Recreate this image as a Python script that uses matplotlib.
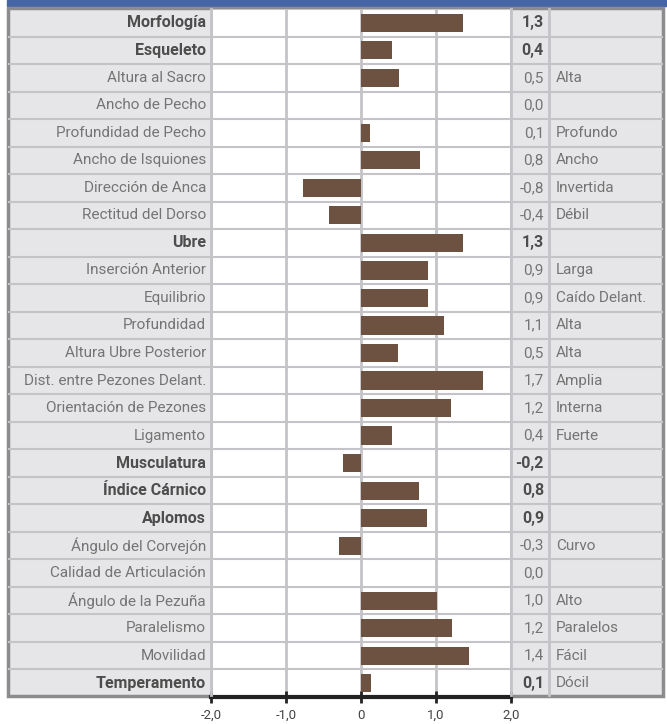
import matplotlib.pyplot as plt
from matplotlib.patches import Rectangle

# rows, top to bottom
labels = ['Morfología', 'Esqueleto', 'Altura al Sacro', 'Ancho de Pecho',
          'Profundidad de Pecho', 'Ancho de Isquiones', 'Dirección de Anca',
          'Rectitud del Dorso', 'Ubre', 'Inserción Anterior', 'Equilibrio',
          'Profundidad', 'Altura Ubre Posterior', 'Dist. entre Pezones Delant.',
          'Orientación de Pezones', 'Ligamento', 'Musculatura', 'Índice Cárnico',
          'Aplomos', 'Ángulo del Corvejón', 'Calidad de Articulación',
          'Ángulo de la Pezuña', 'Paralelismo', 'Movilidad', 'Temperamento']
values = [1.36, 0.41, 0.51, 0.0, 0.12, 0.79, -0.78, -0.43, 1.36, 0.89, 0.89,
          1.11, 0.49, 1.63, 1.20, 0.41, -0.24, 0.77, 0.88, -0.29, 0.0,
          1.01, 1.21, 1.44, 0.13]
value_text = ['1,3', '0,4', '0,5', '0,0', '0,1', '0,8', '-0,8', '-0,4', '1,3',
              '0,9', '0,9', '1,1', '0,5', '1,7', '1,2', '0,4', '-0,2', '0,8',
              '0,9', '-0,3', '0,0', '1,0', '1,2', '1,4', '0,1']
descriptions = ['', '', 'Alta', '', 'Profundo', 'Ancho', 'Invertida', 'Débil',
                '', 'Larga', 'Caído Delant.', 'Alta', 'Alta', 'Amplia', 'Interna',
                'Fuerte', '', '', '', 'Curvo', '', 'Alto', 'Paralelos', 'Fácil',
                'Dócil']
bold_rows = ['Morfología', 'Esqueleto', 'Ubre', 'Musculatura', 'Índice Cárnico',
             'Aplomos', 'Temperamento']
ticks = [-2, -1, 0, 1, 2]
tick_labels = ['-2,0', '-1,0', '0', '1,0', '2,0']

W, H = 667, 724
plt.rcParams['font.family'] = ['Roboto', 'DejaVu Sans']


def fx(x):
    return x / W


def fy(y):
    return 1 - y / H


fig = plt.figure(figsize=(W / 100, H / 100), dpi=100)

top, bottom = 9, 697
left_col, plot_l, plot_r, val_r, right = 9, 211, 511, 549, 662
n = len(labels)
row_h = (bottom - top) / n
grid_c = '#c4c4c8'

# header band, grey cell background and frame
fig.patches.append(Rectangle((fx(7), fy(6)), fx(660), 6 / H, color='#4665a6',
                             transform=fig.transFigure, zorder=-2))
fig.patches.append(Rectangle((fx(left_col), fy(bottom)), fx(right - left_col),
                             (bottom - top) / H, facecolor='#e6e6e8',
                             edgecolor='none', transform=fig.transFigure,
                             zorder=-2))
fig.patches.append(Rectangle((fx(left_col - 1), fy(bottom - 1)),
                             fx(right - left_col + 2), (bottom - top) / H,
                             facecolor='none', edgecolor='#8c8c8c', lw=2.5,
                             transform=fig.transFigure, zorder=0.5))

ax = fig.add_axes([fx(plot_l), fy(bottom), fx(plot_r - plot_l), (bottom - top) / H])
ax.set_zorder(1)
ax.set_facecolor('white')
y = list(range(n))
ax.barh(y, values, height=0.66, color='#6e5241', zorder=3)
ax.set_xlim(-2, 2)
ax.set_ylim(n - 0.5, -0.5)

for t in ticks:
    ax.axvline(t, color=grid_c, lw=2, zorder=1)
for i in range(n):
    ax.axhline(i - 0.5, color=grid_c, lw=1.5, zorder=1)

for s in ['top', 'left', 'right']:
    ax.spines[s].set_visible(False)
ax.spines['bottom'].set_linewidth(3)
ax.spines['bottom'].set_color('#222222')
ax.spines['bottom'].set_zorder(5)
ax.set_yticks([])
ax.set_xticks(ticks)
ax.set_xticklabels(tick_labels)
ax.tick_params(axis='x', direction='inout', length=9, width=2, color='#222222',
               labelsize=9.5, labelcolor='#444444', pad=4)

# row separators across side columns
for i in range(1, n):
    yy = fy(top + i * row_h)
    for x0, x1 in [(left_col, plot_l), (plot_r, right)]:
        fig.add_artist(plt.Line2D([fx(x0), fx(x1)], [yy, yy], color=grid_c,
                                  lw=1.5, transform=fig.transFigure, zorder=2))
for xc in [plot_l, plot_r, val_r]:
    fig.add_artist(plt.Line2D([fx(xc), fx(xc)], [fy(top), fy(bottom - 2)],
                              color=grid_c, lw=2, transform=fig.transFigure,
                              zorder=2))

for i, lab in enumerate(labels):
    yc = fy(top + (i + 0.5) * row_h)
    bold = lab in bold_rows
    wt = 'bold' if bold else 'normal'
    col = '#4d4d4d' if bold else '#747474'
    fs = 11.5 if bold else 11
    fig.text(fx(plot_l - 5), yc, lab, ha='right', va='center', fontsize=fs,
             fontweight=wt, color=col)
    fig.text(fx(val_r - 5), yc, value_text[i], ha='right', va='center',
             fontsize=fs, fontweight=wt, color=col)
    if descriptions[i]:
        fig.text(fx(val_r + 7), yc, descriptions[i], ha='left', va='center',
                 fontsize=11, color='#747474')

fig.savefig('out.png', dpi=100)
